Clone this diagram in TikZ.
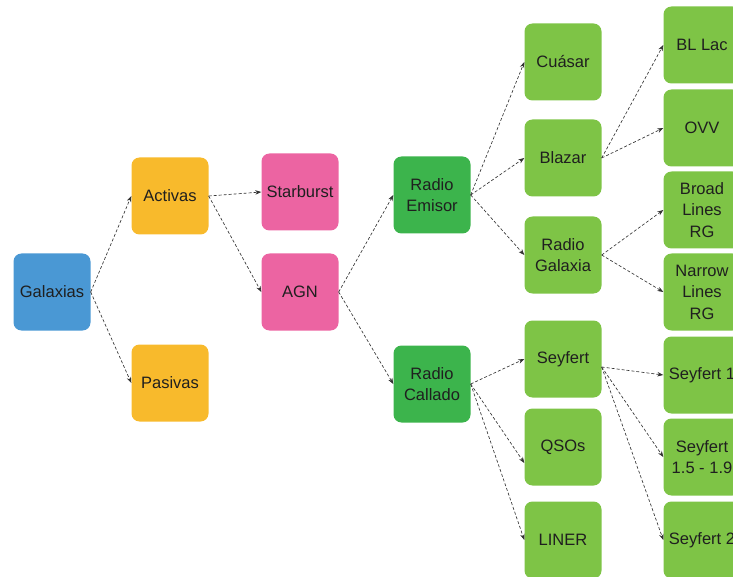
\documentclass[tikz,border=0pt]{standalone}
\usepackage{fontspec}
\setmainfont{Liberation Sans}
\usetikzlibrary{arrows.meta}

\definecolor{galblue}{RGB}{74,152,212}
\definecolor{actyellow}{RGB}{248,186,44}
\definecolor{agnpink}{RGB}{236,100,162}
\definecolor{radgreen}{RGB}{60,180,76}
\definecolor{subgreen}{RGB}{126,196,70}

\tikzset{
  box/.style={rounded corners=8pt, minimum width=77pt, minimum height=77pt,
    inner sep=1pt, align=center, text=black!88,
    font=\fontsize{16.5}{21.5}\selectfont},
  link/.style={densely dashed, black!80, line width=0.65pt,
    -{Stealth[length=6pt,width=4.5pt]}}
}

\begin{document}
\begin{tikzpicture}[x=1pt, y=1pt]
  \useasboundingbox (0,0) rectangle (733,-577);
  \clip (0,0) rectangle (733,-577);

  % first levels
  \node[box, fill=galblue] (gal) at (52,-292) {Galaxias};
  \node[box, fill=actyellow] (act) at (170,-196) {Activas};
  \node[box, fill=actyellow] (pas) at (170,-383) {Pasivas};
  \node[box, fill=agnpink] (sta) at (300,-192) {Starburst};
  \node[box, fill=agnpink] (agn) at (300,-292) {AGN};
  \node[box, fill=radgreen] (rem) at (432,-195) {Radio\\Emisor};
  \node[box, fill=radgreen] (rca) at (432,-384) {Radio\\Callado};

  % middle column
  \node[box, fill=subgreen] (cua) at (563,-62) {Cuásar};
  \node[box, fill=subgreen] (bla) at (563,-158) {Blazar};
  \node[box, fill=subgreen] (rga) at (563,-255) {Radio\\Galaxia};
  \node[box, fill=subgreen] (sey) at (563,-359) {Seyfert};
  \node[box, fill=subgreen] (qso) at (563,-447) {QSOs};
  \node[box, fill=subgreen] (lin) at (563,-540) {LINER};

  % right column (cut by the page edge)
  \node[box, fill=subgreen] (bll) at (702,-45) {BL Lac};
  \node[box, fill=subgreen] (ovv) at (702,-128) {OVV};
  \node[box, fill=subgreen] (brg) at (702,-210) {Broad\\Lines\\RG};
  \node[box, fill=subgreen] (nrg) at (702,-292) {Narrow\\Lines\\RG};
  \node[box, fill=subgreen] (sy1) at (702,-375) {Seyfert 1};
  \node[box, fill=subgreen] (sy15) at (702,-457) {Seyfert\\1.5 - 1.9};
  \node[box, fill=subgreen] (sy2) at (702,-540) {Seyfert 2};

  % links
  \draw[link] (gal.east) -- (act.west);
  \draw[link] (gal.east) -- (pas.west);
  \draw[link] (act.east) -- (sta.west);
  \draw[link] (act.east) -- (agn.west);
  \draw[link] (agn.east) -- (rem.west);
  \draw[link] (agn.east) -- (rca.west);
  \foreach \t in {cua,bla,rga}
    \draw[link] (rem.east) -- (\t.west);
  \draw[link] (rca.east) -- (sey.west);
  \draw[link] (rca.east) -- ([yshift=-16pt]qso.west);
  \draw[link] (rca.east) -- (lin.west);
  \foreach \t in {bll,ovv}
    \draw[link] (bla.east) -- (\t.west);
  \foreach \t in {brg,nrg}
    \draw[link] (rga.east) -- (\t.west);
  \foreach \t in {sy1,sy15,sy2}
    \draw[link] ([yshift=-8pt]sey.east) -- (\t.west);
\end{tikzpicture}
\end{document}
